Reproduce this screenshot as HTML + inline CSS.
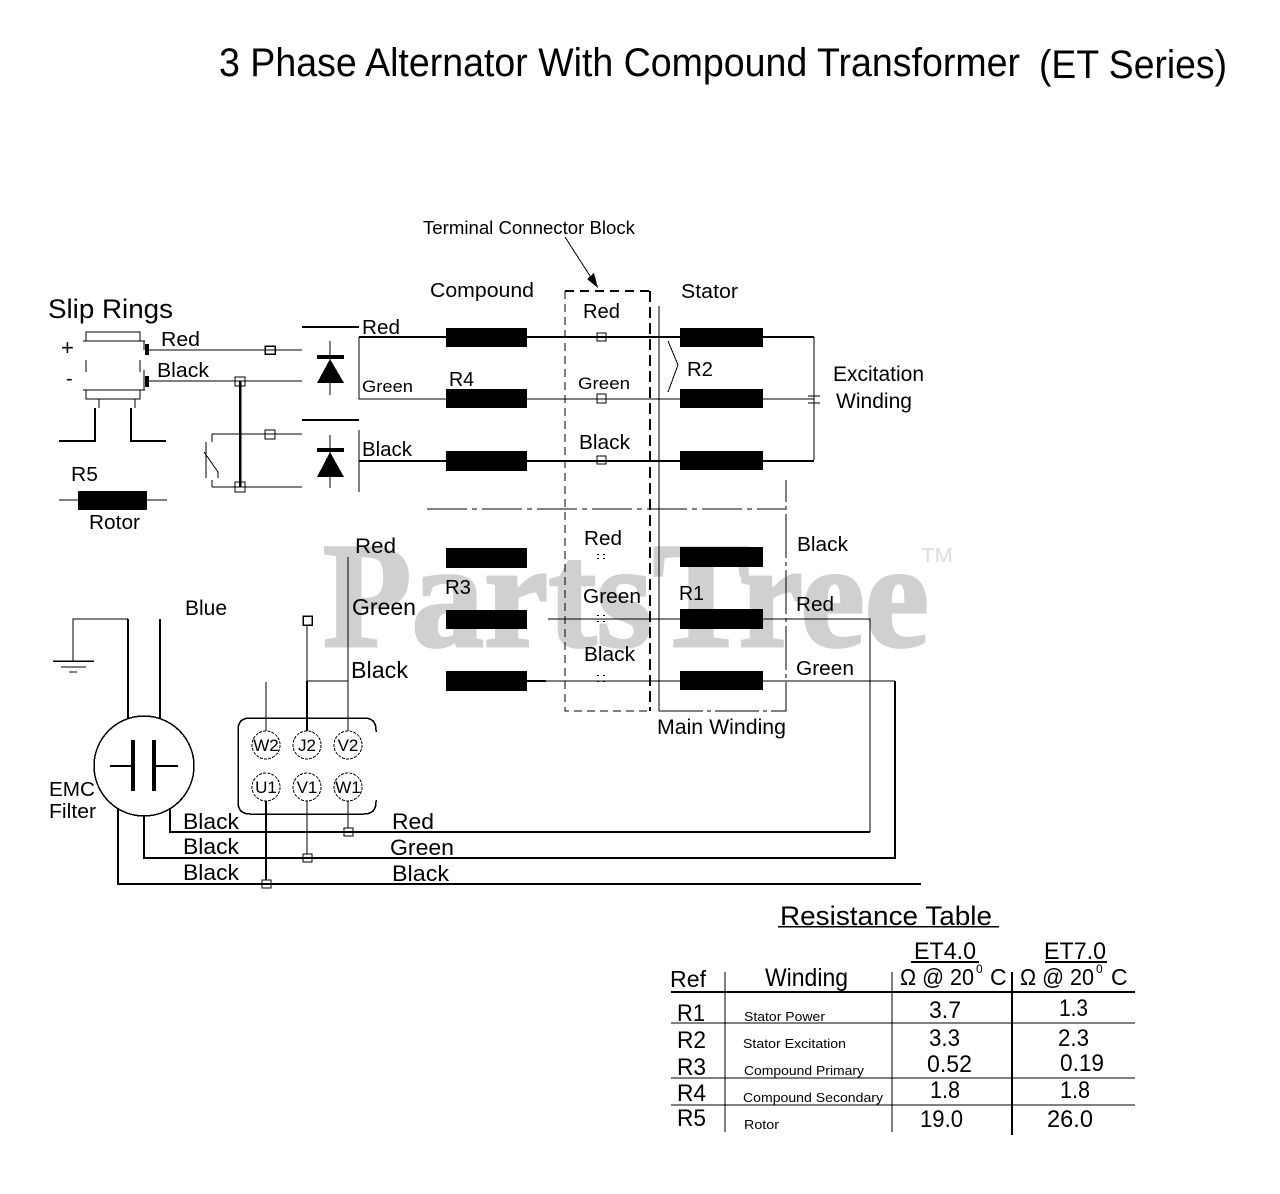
<!DOCTYPE html>
<html><head><meta charset="utf-8"><style>
html,body{margin:0;padding:0;background:#fff}
svg{display:block}
text{font-family:"Liberation Sans",sans-serif;fill:#000}
.l{stroke:#000;fill:none;stroke-width:1}
.t{stroke:#000;fill:none;stroke-width:2}
.h{stroke:#000;fill:none;stroke-width:4}
</style></head><body>
<svg width="1280" height="1194" viewBox="0 0 1280 1194" xmlns="http://www.w3.org/2000/svg" shape-rendering="crispEdges">
<rect width="1280" height="1194" fill="#fff"/>
<text x="323" y="646" font-size="150" font-weight="bold" textLength="606" lengthAdjust="spacingAndGlyphs" style="font-family:'Liberation Serif',serif;fill:#d0d0d0;stroke:#d0d0d0;stroke-width:3">PartsTree</text>
<text x="921" y="562" font-size="20" textLength="32" lengthAdjust="spacingAndGlyphs" style="fill:#ddd">TM</text>

<text x="219" y="76" font-size="40" textLength="801" lengthAdjust="spacingAndGlyphs">3 Phase Alternator With Compound Transformer</text>
<text x="1039" y="78" font-size="40" textLength="188" lengthAdjust="spacingAndGlyphs">(ET Series)</text>

<!-- slip rings -->
<path class="l" d="M86 341V332H140V341M83 341H145M83 390H145M86 390V399H140V390M86 360V372M140 360V372M144 341V350M144 370V390M99 399V408M135 399V408"/>
<path class="t" d="M95 408V441H59M131 408V441H166"/>
<rect x="145" y="344" width="4" height="11"/><rect x="145" y="376" width="4" height="11"/>
<path class="l" d="M149 350H302M149 381H302M212 434H302M212 487H302"/>
<path class="t" d="M302 327H359M302 420H359"/>
<rect class="t" x="265" y="346" width="10" height="8" style="stroke-width:1.5"/>
<rect class="l" x="235" y="377" width="10" height="9"/>
<rect class="l" x="265" y="430" width="10" height="9"/>
<rect class="l" x="235" y="482" width="10" height="10"/>
<path class="t" d="M240 381V487" style="stroke-width:2.5"/>
<path class="l" d="M212 434V442M212 480V487M206 442V478M204 452L218 472V478"/>
<!-- diodes -->
<path class="l" d="M330 341V395M330 435V488"/>
<path d="M317 355H344V359H317ZM330 359L344 383H317ZM317 448H344V452H317ZM330 452L344 477H317Z"/>
<text x="161" y="346" font-size="20" textLength="39" lengthAdjust="spacingAndGlyphs">Red</text>
<text x="157" y="377" font-size="20" textLength="52" lengthAdjust="spacingAndGlyphs">Black</text>
<text x="48" y="318" font-size="27" textLength="125" lengthAdjust="spacingAndGlyphs">Slip Rings</text>
<text x="61" y="355" font-size="22">+</text>
<text x="66" y="385" font-size="20">-</text>
<text x="71" y="481" font-size="20" textLength="27" lengthAdjust="spacingAndGlyphs">R5</text>
<text x="89" y="529" font-size="20" textLength="51" lengthAdjust="spacingAndGlyphs">Rotor</text>
<path class="l" d="M59 500H167"/>
<rect x="78" y="491" width="69" height="19" rx="1"/>

<!-- main wires upper -->
<path class="t" d="M359 337H814M359 461H814" />
<path class="l" d="M359 337V399H814M359 430V492M814 337V460"/>
<g>
<rect x="446" y="328" width="81" height="19"/><rect x="446" y="389" width="81" height="19"/><rect x="446" y="451" width="81" height="20"/>
<rect x="680" y="328" width="83" height="19"/><rect x="680" y="389" width="83" height="19"/><rect x="680" y="451" width="83" height="19"/>
<rect x="446" y="548" width="81" height="20"/><rect x="446" y="610" width="81" height="19"/><rect x="446" y="671" width="81" height="20"/>
<rect x="680" y="547" width="83" height="20"/><rect x="680" y="609" width="83" height="20"/><rect x="680" y="671" width="83" height="19"/>
</g>
<rect class="l" x="597" y="333" width="9" height="8"/>
<rect class="l" x="597" y="394" width="9" height="9"/>
<rect class="l" x="597" y="456" width="9" height="8"/>
<path class="l" d="M808 396H820M808 403H820"/>
<path d="M597 554h2v1h-2zM603 554h2v1h-2zM597 558h2v1h-2zM603 558h2v1h-2zM597 615h2v1h-2zM603 615h2v1h-2zM597 621h2v1h-2zM603 621h2v1h-2zM597 675h2v1h-2zM603 675h2v1h-2zM597 681h2v1h-2zM603 681h2v1h-2z"/>

<!-- dashed frames -->
<path class="l" d="M565 291V711H651" stroke-dasharray="8 5" />
<path class="t" d="M565 291H650" stroke-dasharray="9 6"/>
<path class="t" d="M650 291V711" stroke-dasharray="11 5"/>
<path class="l" d="M659 306V711"/>
<path class="l" d="M659 711H786V480" stroke-dasharray="44 4 4 4"/>
<path class="l" d="M427 509H785" stroke-dasharray="40 5 5 5"/>
<path class="l" d="M668 341L678 365L668 392"/>
<!-- arrow -->
<path class="l" d="M565 237L592 279"/>
<path d="M598 288L587 279L594 273Z"/>

<text x="423" y="234" font-size="18" textLength="212" lengthAdjust="spacingAndGlyphs">Terminal Connector Block</text>
<text x="430" y="297" font-size="20" textLength="104" lengthAdjust="spacingAndGlyphs">Compound</text>
<text x="681" y="298" font-size="20" textLength="57" lengthAdjust="spacingAndGlyphs">Stator</text>
<text x="362" y="334" font-size="20" textLength="38" lengthAdjust="spacingAndGlyphs">Red</text>
<text x="362" y="392" font-size="17" textLength="51" lengthAdjust="spacingAndGlyphs">Green</text>
<text x="362" y="456" font-size="20" textLength="50" lengthAdjust="spacingAndGlyphs">Black</text>
<text x="449" y="386" font-size="20" textLength="25" lengthAdjust="spacingAndGlyphs">R4</text>
<text x="583" y="318" font-size="20" textLength="37" lengthAdjust="spacingAndGlyphs">Red</text>
<text x="578" y="389" font-size="17" textLength="52" lengthAdjust="spacingAndGlyphs">Green</text>
<text x="579" y="449" font-size="20" textLength="51" lengthAdjust="spacingAndGlyphs">Black</text>
<text x="687" y="376" font-size="20" textLength="26" lengthAdjust="spacingAndGlyphs">R2</text>
<text x="833" y="381" font-size="21" textLength="91" lengthAdjust="spacingAndGlyphs">Excitation</text>
<text x="836" y="408" font-size="21" textLength="76" lengthAdjust="spacingAndGlyphs">Winding</text>

<!-- lower labels -->
<text x="355" y="553" font-size="21" textLength="41" lengthAdjust="spacingAndGlyphs">Red</text>
<text x="352" y="615" font-size="23" textLength="64" lengthAdjust="spacingAndGlyphs">Green</text>
<text x="351" y="678" font-size="23" textLength="57" lengthAdjust="spacingAndGlyphs">Black</text>
<text x="185" y="615" font-size="21" textLength="42" lengthAdjust="spacingAndGlyphs">Blue</text>
<text x="445" y="594" font-size="20" textLength="26" lengthAdjust="spacingAndGlyphs">R3</text>
<text x="584" y="545" font-size="20" textLength="38" lengthAdjust="spacingAndGlyphs">Red</text>
<text x="583" y="603" font-size="20" textLength="58" lengthAdjust="spacingAndGlyphs">Green</text>
<text x="584" y="661" font-size="20" textLength="51" lengthAdjust="spacingAndGlyphs">Black</text>
<text x="679" y="600" font-size="20" textLength="25" lengthAdjust="spacingAndGlyphs">R1</text>
<text x="797" y="551" font-size="20" textLength="51" lengthAdjust="spacingAndGlyphs">Black</text>
<text x="796" y="611" font-size="20" textLength="38" lengthAdjust="spacingAndGlyphs">Red</text>
<text x="796" y="675" font-size="20" textLength="58" lengthAdjust="spacingAndGlyphs">Green</text>
<text x="657" y="734" font-size="21" textLength="129" lengthAdjust="spacingAndGlyphs">Main Winding</text>

<!-- lower wires -->
<path class="l" d="M548 619H680M763 619H870V832"/>
<path class="l" d="M527 681H680"/>
<path class="t" d="M527 681H546" />
<path class="l" d="M763 681H895"/>
<path class="t" d="M895 681V858H144V815"/>
<path class="t" d="M870 832H170V808"/>
<path class="t" d="M921 884H118V808" />

<!-- EMC -->
<circle cx="144" cy="766" r="50" class="t" style="stroke-width:1.5"/>
<path class="l" d="M73 661V619H128" />
<path class="t" d="M128 619V718M160 619V718"/>
<path class="t" d="M53 661H94" style="stroke-width:1.5"/><path class="l" d="M61 667H86M69 672H77"/>
<path class="h" d="M133 740V791M154 740V791"/>
<path class="t" d="M110 766H133M154 766H178"/>
<text x="49" y="796" font-size="20" textLength="46" lengthAdjust="spacingAndGlyphs">EMC</text>
<text x="49" y="818" font-size="20" textLength="47" lengthAdjust="spacingAndGlyphs">Filter</text>

<!-- terminal block -->
<path class="t" d="M376 732V730Q376 718 364 718H250Q238 718 238 730V802Q238 814 250 814H364Q376 814 376 802V800" style="stroke-width:1.5"/>
<g class="l" stroke-dasharray="3 1.2">
<circle cx="266" cy="745" r="14" class="l"/><circle cx="307" cy="745" r="14" class="l"/><circle cx="348" cy="745" r="14" class="l"/>
<circle cx="266" cy="787" r="14" class="l"/><circle cx="307" cy="787" r="14" class="l"/><circle cx="348" cy="787" r="14" class="l"/>
</g>
<text x="266" y="751" font-size="17" text-anchor="middle">W2</text>
<text x="307" y="751" font-size="17" text-anchor="middle">J2</text>
<text x="348" y="751" font-size="17" text-anchor="middle">V2</text>
<text x="266" y="793" font-size="17" text-anchor="middle">U1</text>
<text x="307" y="793" font-size="17" text-anchor="middle">V1</text>
<text x="348" y="793" font-size="17" text-anchor="middle">W1</text>
<path class="l" d="M266 682V731M307 625V682M348 557V731M307 681H348M307 801V854M348 801V828"/>
<path class="t" d="M307 681V731M266 801V880"/>
<rect x="303" y="616" width="9" height="9" class="t" style="stroke-width:1.5"/>
<rect class="l" x="344" y="828" width="9" height="8"/>
<rect class="l" x="303" y="854" width="9" height="8"/>
<rect class="l" x="262" y="880" width="9" height="8"/>
<text x="183" y="829" font-size="22" textLength="56" lengthAdjust="spacingAndGlyphs">Black</text>
<text x="183" y="854" font-size="22" textLength="56" lengthAdjust="spacingAndGlyphs">Black</text>
<text x="183" y="880" font-size="22" textLength="56" lengthAdjust="spacingAndGlyphs">Black</text>
<text x="392" y="829" font-size="22" textLength="42" lengthAdjust="spacingAndGlyphs">Red</text>
<text x="390" y="855" font-size="22" textLength="64" lengthAdjust="spacingAndGlyphs">Green</text>
<text x="392" y="881" font-size="22" textLength="57" lengthAdjust="spacingAndGlyphs">Black</text>

<!-- table -->
<text x="780" y="925" font-size="27" textLength="212" lengthAdjust="spacingAndGlyphs">Resistance Table</text>
<path class="l" d="M778 926.5H999" style="stroke-width:1.5"/>
<text x="914" y="959" font-size="24" textLength="62" lengthAdjust="spacingAndGlyphs">ET4.0</text>
<text x="1044" y="959" font-size="24" textLength="62" lengthAdjust="spacingAndGlyphs">ET7.0</text>
<path class="t" d="M911 962H979M1045 962H1107"/>
<text x="670" y="987" font-size="23" textLength="36" lengthAdjust="spacingAndGlyphs">Ref</text>
<text x="765" y="986" font-size="25" textLength="83" lengthAdjust="spacingAndGlyphs">Winding</text>
<text x="900" y="985" font-size="23" textLength="74" lengthAdjust="spacingAndGlyphs">Ω @ 20</text>
<text x="990" y="985" font-size="23">C</text>
<text x="1020" y="985" font-size="23" textLength="74" lengthAdjust="spacingAndGlyphs">Ω @ 20</text>
<text x="1111" y="985" font-size="23">C</text>
<text x="976" y="973" font-size="12">0</text><text x="1096" y="973" font-size="12">0</text>
<path class="t" d="M671 992H1135"/>
<path class="l" d="M671 1023H1135M671 1078H1135M671 1105H1135M725 972V1132M892 972V1132"/>
<path class="t" d="M1012 972V1135"/>
<text x="677" y="1021" font-size="24" textLength="28" lengthAdjust="spacingAndGlyphs">R1</text>
<text x="677" y="1048" font-size="24" textLength="29" lengthAdjust="spacingAndGlyphs">R2</text>
<text x="677" y="1075" font-size="24" textLength="29" lengthAdjust="spacingAndGlyphs">R3</text>
<text x="677" y="1101" font-size="24" textLength="29" lengthAdjust="spacingAndGlyphs">R4</text>
<text x="677" y="1126" font-size="24" textLength="29" lengthAdjust="spacingAndGlyphs">R5</text>
<text x="744" y="1021" font-size="13" textLength="81" lengthAdjust="spacingAndGlyphs">Stator Power</text>
<text x="743" y="1048" font-size="13" textLength="103" lengthAdjust="spacingAndGlyphs">Stator Excitation</text>
<text x="744" y="1075" font-size="13" textLength="120" lengthAdjust="spacingAndGlyphs">Compound Primary</text>
<text x="743" y="1102" font-size="13" textLength="140" lengthAdjust="spacingAndGlyphs">Compound Secondary</text>
<text x="744" y="1129" font-size="13" textLength="35" lengthAdjust="spacingAndGlyphs">Rotor</text>
<text x="929" y="1018" font-size="24" textLength="32" lengthAdjust="spacingAndGlyphs">3.7</text>
<text x="1059" y="1016" font-size="24" textLength="29" lengthAdjust="spacingAndGlyphs">1.3</text>
<text x="929" y="1046" font-size="24" textLength="31" lengthAdjust="spacingAndGlyphs">3.3</text>
<text x="1058" y="1046" font-size="24" textLength="31" lengthAdjust="spacingAndGlyphs">2.3</text>
<text x="927" y="1072" font-size="24" textLength="45" lengthAdjust="spacingAndGlyphs">0.52</text>
<text x="1060" y="1071" font-size="24" textLength="44" lengthAdjust="spacingAndGlyphs">0.19</text>
<text x="930" y="1098" font-size="24" textLength="30" lengthAdjust="spacingAndGlyphs">1.8</text>
<text x="1060" y="1098" font-size="24" textLength="30" lengthAdjust="spacingAndGlyphs">1.8</text>
<text x="920" y="1127" font-size="24" textLength="43" lengthAdjust="spacingAndGlyphs">19.0</text>
<text x="1047" y="1127" font-size="24" textLength="46" lengthAdjust="spacingAndGlyphs">26.0</text>
</svg>
</body></html>
